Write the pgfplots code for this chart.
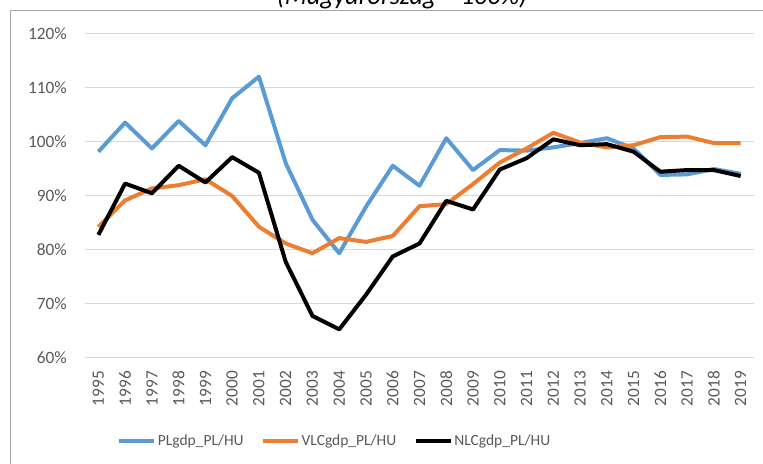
\documentclass[border=0pt]{standalone}
\usepackage{pgfplots}
\pgfplotsset{compat=1.18}
\usepackage{fontspec}
\setmainfont{Carlito}
\definecolor{cblue}{HTML}{5B9BD5}
\definecolor{corange}{HTML}{ED7D31}
\definecolor{cgrid}{HTML}{D9D9D9}
\definecolor{ctext}{HTML}{595959}
\definecolor{cframe}{HTML}{A6A6A6}
\pgfplotstableread{
year PL VLC NLC
1995 98.2 84.3 82.8
1996 103.6 89.2 92.3
1997 98.8 91.4 90.5
1998 103.9 92.0 95.6
1999 99.4 93.1 92.5
2000 108.1 90.0 97.2
2001 112.1 84.3 94.3
2002 96.1 81.2 77.8
2003 85.6 79.4 67.8
2004 79.4 82.2 65.3
2005 88.0 81.5 71.7
2006 95.6 82.6 78.8
2007 91.9 88.1 81.2
2008 100.7 88.5 89.1
2009 94.8 92.2 87.5
2010 98.5 96.2 94.9
2011 98.4 98.8 97.0
2012 99.0 101.7 100.5
2013 99.8 99.9 99.4
2014 100.7 99.0 99.6
2015 98.8 99.4 98.2
2016 93.9 100.9 94.5
2017 94.0 101.0 94.8
2018 95.0 99.8 94.8
2019 94.1 99.8 93.7
}\datatable
\begin{document}
\begin{tikzpicture}[x=1bp,y=1bp]
\useasboundingbox (0,0) rectangle (763,464);
\begin{scope}
\clip (0,0) rectangle (763,464);
\node[anchor=base, inner sep=0pt, font=\fontsize{26bp}{30bp}\selectfont\itshape] at (402,459) {(Magyarország = 100\%)};
\end{scope}
\draw[cframe, line width=1bp] (10.5,0) -- (10.5,453.5) -- (763,453.5);
\begin{axis}[
  at={(85bp,106bp)}, anchor=south west,
  scale only axis, width=669bp, height=324bp,
  xmin=1994.5, xmax=2019.5, ymin=60, ymax=120,
  xtick={1995,...,2019}, ytick={60,70,...,120},
  /pgf/number format/1000 sep={},
  /pgf/number format/assume math mode=true,
  yticklabel={\pgfmathprintnumber{\tick}\%},
  ymajorgrids, grid style={cgrid, line width=1bp},
  axis line style={draw=none}, major tick length=0pt,
  tick label style={font=\fontsize{17.3bp}{20bp}\selectfont, text=ctext},
  yticklabel style={anchor=east, inner sep=0pt, xshift=-18bp},
  xticklabel style={rotate=90, anchor=east, inner sep=0pt, xshift=-13bp},
  legend columns=3,
  legend style={at={(rel axis cs:0.373,-0.256)}, anchor=center, draw=none,
    font=\fontsize{15.5bp}{18bp}\selectfont, text=ctext,
    /tikz/every even column/.append style={column sep=16bp},
    inner sep=0pt, nodes={inner xsep=1.5bp, inner ysep=0pt}},
  legend image code/.code={\draw[#1, line width=4bp] (0bp,0bp) -- (35bp,0bp);},
  every axis plot/.append style={line width=4bp, line join=round, no markers},
]
\addplot[cblue] table[x=year, y=PL] {\datatable};
\addlegendentry{PLgdp\_PL/HU}
\addplot[corange] table[x=year, y=VLC] {\datatable};
\addlegendentry{VLCgdp\_PL/HU}
\addplot[black] table[x=year, y=NLC] {\datatable};
\addlegendentry{NLCgdp\_PL/HU}
\end{axis}
\end{tikzpicture}
\end{document}
